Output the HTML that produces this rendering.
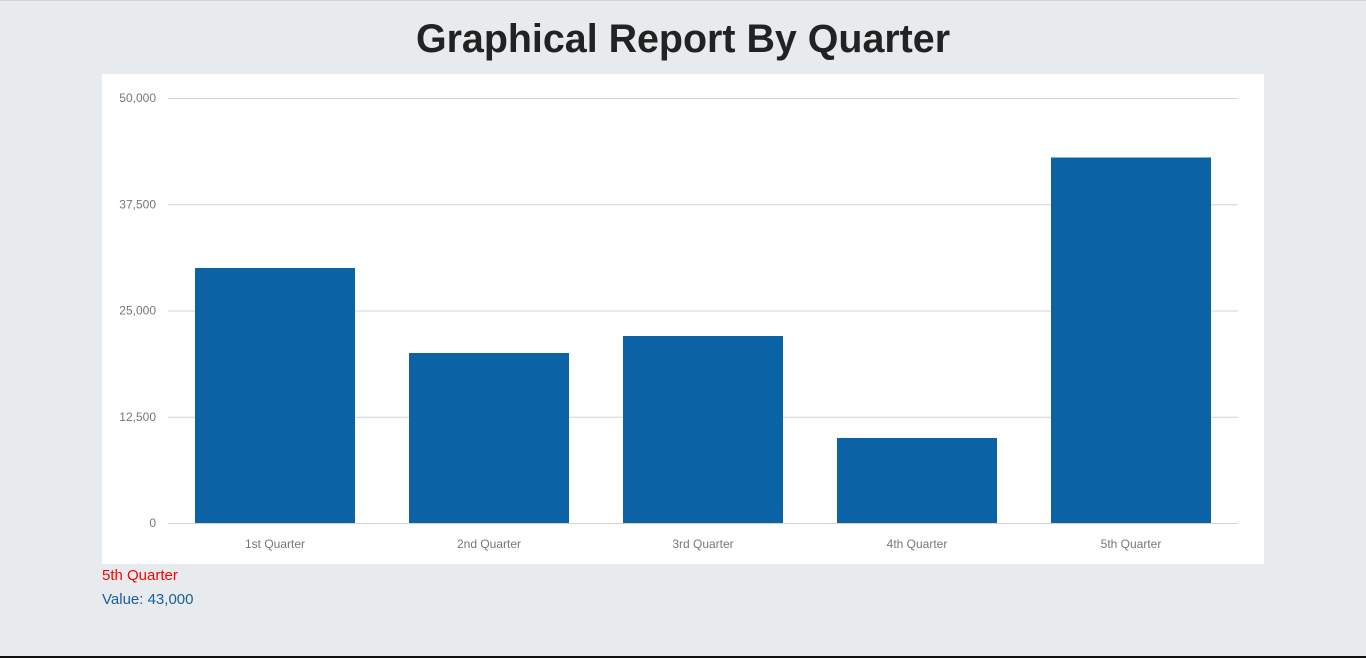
<!DOCTYPE html>
<html><head><meta charset="utf-8"><style>
html,body{margin:0;padding:0;width:1366px;height:658px;overflow:hidden;background:#e8ebee;font-family:"Liberation Sans",sans-serif;position:relative}
#title{position:absolute;left:0;width:1366px;top:14px;text-align:center;font-size:39.4px;font-weight:bold;color:#222;margin:0;line-height:50px}
#chart{position:absolute;left:102px;top:74px;width:1162px;height:490px;background:#fff}
#sel{position:absolute;left:102px;top:567px;font-size:15px;color:#f00}
#val{position:absolute;left:102px;top:591px;font-size:15px;color:#1a5c9c}
#topline{position:absolute;left:0;top:0;width:1366px;height:1px;background:#d0d4d8}
#botline{position:absolute;left:0;top:656px;width:1366px;height:2px;background:#111}
</style></head><body>
<div id="topline"></div>
<h1 id="title">Graphical Report By Quarter</h1>
<svg id="chart" width="1162" height="490"></svg>
<div id="sel">5th Quarter</div>
<div id="val">Value: 43,000</div>
<div id="botline"></div>
<script>
const categories=["1st Quarter","2nd Quarter","3rd Quarter","4th Quarter","5th Quarter"];
const values=[30000,20000,22000,10000,43000];
const ticks=[0,12500,25000,37500,50000];
const tickLabels=["0","12,500","25,000","37,500","50,000"];
const svg=document.getElementById('chart');
const NS='http://www.w3.org/2000/svg';
const L=66,R=1136,T=24,B=449,maxV=50000;
const y=v=>B-(v/maxV)*(B-T);
const band=(R-L)/categories.length,bw=160;
const x=i=>L+i*band+(band-bw)/2;
function mk(t,a){const e=document.createElementNS(NS,t);for(const k in a)e.setAttribute(k,a[k]);svg.appendChild(e);return e;}
ticks.forEach((t,i)=>{
  const g=mk('line',{x1:L,x2:R,y1:y(t)+0.5,y2:y(t)+0.5,stroke:'#d4d4d4','stroke-width':1});
  
  
  const tx=mk('text',{x:L-12,y:y(t)+4,'text-anchor':'end','font-size':12,fill:'#777','font-family':'Liberation Sans, sans-serif'});
  tx.textContent=tickLabels[i];
  
  
});
categories.forEach((c,i)=>{
  const r=mk('rect',{x:x(i),y:y(values[i]),width:bw,height:B-y(values[i]),fill:'#0b63a6'});
  
  
  const t=mk('text',{x:x(i)+bw/2,y:B+25,'text-anchor':'middle','font-size':12,fill:'#777','font-family':'Liberation Sans, sans-serif'});
  t.textContent=c;
  
  
});
</script>
</body></html>
